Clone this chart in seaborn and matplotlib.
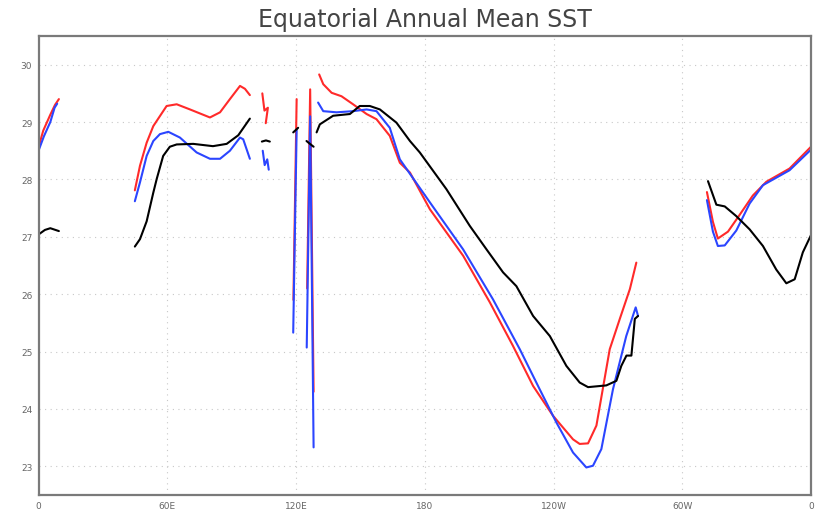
import numpy as np
import pandas as pd
import matplotlib
matplotlib.use("Agg")
import matplotlib.pyplot as plt
import seaborn as sns

# Longitude (0-360, degrees east) and SST values.
# None marks a gap (land) between segments.
red_lon = [0, 2.2, 5.4, 7.7, 9.5, None,
           44.9, 47.3, 50.4, 53.5, 59.7, 64.4, 70.6, 79.9, 84.6, 89.2, 93.9, 96.2, 98.5, None,
           104.3, 105.3, 106.9, 105.9, None,
           118.8, 120.3, None,
           125.2, 126.6, 128.2, None,
           130.8, 132.7, 136.6, 141.2, 146.6, 152.9, 157.5, 163.7, 168.4, 173.1, 182.4, 197.9,
           210.3, 221.1, 230.5, 239.8, 249.1, 252.2, 256.1, 260.0, 266.2, 270.9, 275.6, 278.6, None,
           311.5, 314.3, 316.6, 321.3, 326.7, 332.9, 339.2, 350.0, 360.0]
red_sst = [28.56, 28.85, 29.12, 29.30, 29.40, None,
           27.81, 28.24, 28.64, 28.93, 29.28, 29.31, 29.22, 29.08, 29.17, 29.40, 29.63, 29.58, 29.47, None,
           29.50, 29.20, 29.25, 28.98, None,
           25.90, 29.40, None,
           26.10, 29.57, 24.30, None,
           29.83, 29.66, 29.51, 29.45, 29.31, 29.14, 29.05, 28.76, 28.29, 28.12, 27.48, 26.67,
           25.86, 25.10, 24.40, 23.88, 23.47, 23.39, 23.40, 23.71, 25.04, 25.57, 26.09, 26.55, None,
           27.78, 27.26, 26.97, 27.09, 27.38, 27.72, 27.96, 28.19, 28.57]

blue_lon = [0, 2.5, 5.5, 7.5, 8.7, None,
            44.9, 47.3, 50.4, 53.5, 56.6, 60.5, 65.9, 73.7, 79.9, 84.6, 89.2, 93.9, 95.4, 98.5, None,
            104.5, 105.4, 106.6, 107.3, None,
            118.7, 120.3, None,
            125.0, 126.6, 128.2, None,
            130.3, 132.7, 138.9, 146.6, 152.9, 157.5, 163.7, 168.4, 182.4, 197.9, 211.8, 224.3,
            233.6, 241.4, 249.1, 255.3, 258.4, 262.3, 267.7, 273.9, 278.3, 279.4, None,
            311.5, 314.3, 316.6, 319.8, 325.2, 331.4, 337.6, 350.0, 360.0]
blue_sst = [28.50, 28.75, 29.00, 29.25, 29.32, None,
            27.62, 27.95, 28.41, 28.67, 28.79, 28.83, 28.73, 28.47, 28.36, 28.36, 28.50, 28.73, 28.70, 28.36, None,
            28.50, 28.25, 28.35, 28.17, None,
            25.33, 28.87, None,
            25.07, 29.10, 23.33, None,
            29.34, 29.19, 29.17, 29.19, 29.22, 29.19, 28.90, 28.35, 27.60, 26.78, 25.91, 25.04,
            24.34, 23.76, 23.24, 22.98, 23.01, 23.30, 24.34, 25.27, 25.77, 25.62, None,
            27.64, 27.09, 26.84, 26.85, 27.11, 27.58, 27.90, 28.16, 28.52]

black_lon = [0, 3.0, 5.5, 9.5, None,
             44.9, 47.3, 50.4, 53.5, 55.1, 58.1, 61.2, 64.4, 72.1, 81.3, 87.7, 93.1, 98.5, None,
             104.1, 106.0, 107.8, None,
             118.7, 121.0, None,
             124.9, 126.5, 128.2, None,
             129.6, 131.1, 137.3, 145.1, 149.7, 154.4, 159.1, 166.8, 173.1, 177.7, 190.1, 201.0,
             208.8, 216.5, 222.7, 230.5, 238.3, 246.0, 252.2, 256.1, 264.6, 269.3, 271.6, 274.0,
             276.3, 277.9, 279.4, None,
             312.0, 315.9, 319.8, 325.2, 331.4, 337.6, 343.8, 348.5, 352.4, 356.2, 360.0]
black_sst = [27.04, 27.12, 27.15, 27.10, None,
             26.83, 26.96, 27.27, 27.77, 28.01, 28.41, 28.57, 28.61, 28.62, 28.58, 28.62, 28.77, 29.06, None,
             28.66, 28.68, 28.66, None,
             28.82, 28.90, None,
             28.67, 28.62, 28.57, None,
             28.82, 28.96, 29.11, 29.14, 29.28, 29.28, 29.22, 28.99, 28.67, 28.47, 27.83, 27.19,
             26.78, 26.38, 26.14, 25.62, 25.27, 24.75, 24.46, 24.38, 24.41, 24.49, 24.75, 24.93,
             24.93, 25.57, 25.62, None,
             27.97, 27.56, 27.53, 27.36, 27.13, 26.84, 26.43, 26.19, 26.26, 26.73, 27.03]

xtick_pos = [0, 60, 120, 180, 240, 300, 360]
xtick_labels = ["0", "60E", "120E", "180", "120W", "60W", "0"]
ytick_pos = [23, 24, 25, 26, 27, 28, 29, 30]


def to_frame(lons, ssts):
    # split the lists at None into separate line segments
    rows = []
    seg = 0
    for lo, s in zip(lons, ssts):
        if lo is None:
            seg += 1
            continue
        rows.append({"lon": lo, "sst": s, "seg": seg})
    return pd.DataFrame(rows)


sns.set_style("white")
plt.rcParams["font.family"] = ["DejaVu Sans"]

fig = plt.figure(figsize=(8.17, 5.10), dpi=100)
ax = fig.add_axes([38.5 / 817, 1 - 496 / 510, (811 - 38.5) / 817, (496 - 37) / 510])

# dotted grid first so curves sit on top
for x in xtick_pos[1:-1]:
    ax.axvline(x, color="#c8c8c8", lw=0.8, ls=(0, (1, 4)), zorder=0)
for y in ytick_pos:
    ax.axhline(y, color="#c8c8c8", lw=0.8, ls=(0, (1, 4)), zorder=0)

for lons, ssts, col in [(red_lon, red_sst, "#ff2a2a"),
                        (blue_lon, blue_sst, "#2b45ff"),
                        (black_lon, black_sst, "black")]:
    df = to_frame(lons, ssts)
    sns.lineplot(data=df, x="lon", y="sst", units="seg", estimator=None, sort=False,
                 color=col, lw=1.5, ax=ax, legend=False)

ax.set_xlim(0, 360)
ax.set_ylim(22.5, 30.5)
ax.set_xticks(xtick_pos)
ax.set_xticklabels(xtick_labels)
ax.set_yticks(ytick_pos)
ax.set_xlabel("")
ax.set_ylabel("")
ax.tick_params(axis="both", direction="out", length=3, width=0.8, color="#808080",
               labelsize=6.5, labelcolor="#666666", pad=1.5)
for sp in ax.spines.values():
    sp.set_color("#7a7a7a")
    sp.set_linewidth(1.6)

ax.set_title("Equatorial Annual Mean SST", fontsize=17, color="#444444", pad=7)

fig.savefig("out.png", dpi=100)
